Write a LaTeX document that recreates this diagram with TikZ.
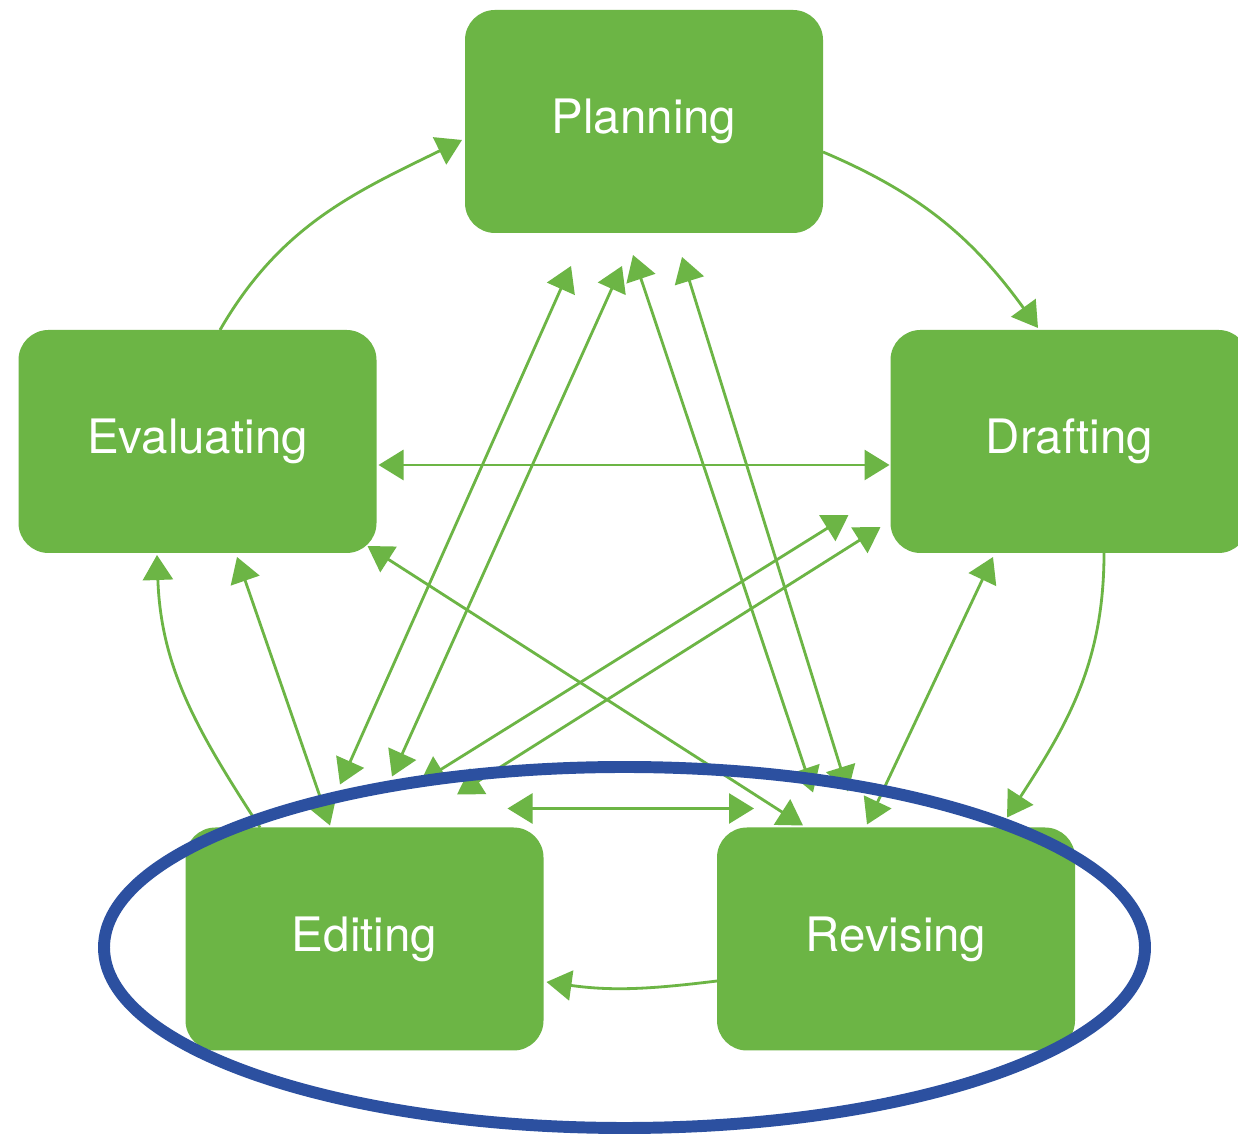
\documentclass[tikz,border=0pt]{standalone}
\usepackage{fontspec}
\setmainfont{TeX Gyre Heros}
\usetikzlibrary{arrows.meta,calc}
\definecolor{boxgreen}{RGB}{108,181,69}
\definecolor{ringblue}{RGB}{44,80,160}
\tikzset{
  stagebox/.style={draw=none, fill=boxgreen, rounded corners=3mm, minimum width=3.58cm,
    minimum height=2.23cm, inner sep=0pt, outer sep=0pt, text=white,
    font=\fontsize{13.5}{16}\selectfont},
  link/.style={draw=boxgreen, line width=0.8pt, {Triangle[length=2.5mm,width=3mm]}-{Triangle[length=2.5mm,width=3mm]}},
  flow/.style={draw=boxgreen, line width=0.8pt, -{Triangle[length=2.5mm,width=3mm]}},
  ring/.style={draw=ringblue, line width=3.4pt}
}
\begin{document}
\begin{tikzpicture}[x=0.1mm,y=0.1mm]
\useasboundingbox (0,0) rectangle (1238,1137);
\clip (0,0) rectangle (1238,1137);
\fill[white] (0,0) rectangle (1238,1137);

\node[stagebox] (plan) at (644,1015.5) {Planning};
\node[stagebox] (eval) at (197.5,695.5) {Evaluating};
\node[stagebox] (draft) at (1069.5,695.5) {Drafting};
\node[stagebox] (edit) at (364.5,198) {Editing};
\node[stagebox] (rev) at (896,198) {Revising};

% outer cycle
\draw[flow] ($(eval.north)+(22.5,0)$) to[out=60,in=206] ($(plan.west)+(-3,-18.5)$);
\draw[flow] ($(plan.east)+(0,-30.5)$) to[out=-23,in=126] ($(draft.north)+(-31.5,2)$);
\draw[flow] ($(draft.south)+(34.5,0)$) to[out=-90,in=57] ($(rev.north east)+(-68,10)$);
\draw[flow] ($(rev.west)+(0,-42)$) to[out=187,in=-8] ($(edit.east)+(3,-43)$);
\draw[flow] ($(edit.north)+(-104.5,0)$) to[out=123,in=-88] ($(eval.south)+(-40.5,-2)$);

% two-way links
\draw[link] ($(plan.south)+(-73,-33)$) -- ($(edit.north)+(-24.5,43)$);
\draw[link] ($(plan.south)+(-22,-33)$) -- ($(edit.north)+(27.5,51)$);
\draw[link] ($(plan.south)+(-11,-22)$) -- ($(rev.north)+(-83,35)$);
\draw[link] ($(plan.south)+(38,-24)$) -- ($(rev.north)+(-48,36)$);
\draw[link] ($(draft.west)+(-42,-73.5)$) -- ($(edit.north)+(55.5,45)$);
\draw[link] ($(draft.west)+(-10,-85.5)$) -- ($(edit.north)+(92.5,33)$);
\draw[link] ($(eval.south east)+(-9,7)$) -- ($(rev.north)+(-93,2)$);
\draw[link] ($(draft.south)+(-76.5,-4)$) -- ($(rev.north)+(-29,3)$);
\draw[link] ($(eval.south)+(39.5,-4)$) -- ($(edit.north)+(-34.5,2)$);
\draw[link] ($(eval.east)+(2,-23.5)$) -- ($(draft.west)+(-1,-23.5)$);
\draw[link] ($(edit.north east)+(-36,19)$) -- ($(rev.north west)+(37,19)$);

% blue ring
\draw[ring] (624.5,189.5) ellipse [x radius=5.205cm, y radius=1.805cm];
\end{tikzpicture}
\end{document}
